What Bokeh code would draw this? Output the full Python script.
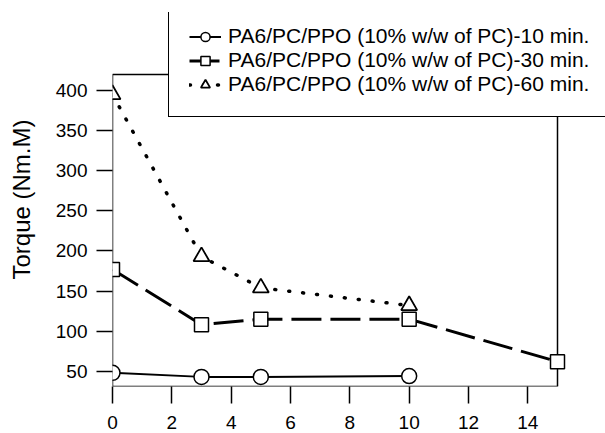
from bokeh.plotting import figure
from bokeh.models import Range1d, Legend, LegendItem, FixedTicker, BoxAnnotation
from bokeh.embed import file_html
from bokeh.resources import INLINE

# Data
x10 = [0, 3, 5, 10]
y10 = [48, 43, 43, 44]
x30 = [0, 3, 5, 10, 15]
y30 = [177, 108, 115, 115, 62]
x60 = [0, 3, 5, 10]
y60 = [395, 193, 154, 132]
labels = ["PA6/PC/PPO (10% w/w of PC)-10 min.",
          "PA6/PC/PPO (10% w/w of PC)-30 min.",
          "PA6/PC/PPO (10% w/w of PC)-60 min."]
xticks = [0, 2, 4, 6, 8, 10, 12, 14]
yticks = [50, 100, 150, 200, 250, 300, 350, 400]

# plot box limits (data units)
XMIN, XMAX = 0, 15
YMIN, YMAX = 31, 420

FONT = "Liberation Sans"

# the frame is extended up and right so the legend (which sits over the
# plot box corner) is not clipped; the plot box itself is drawn as a box
box_w, box_h = 445, 312
ext_right, ext_top = 48, 62
xpx = box_w / (XMAX - XMIN)
ypx = box_h / (YMAX - YMIN)

p = figure(width=605, height=433, frame_width=box_w + ext_right,
           frame_height=box_h + ext_top,
           min_border_left=112, min_border_right=0, min_border_top=12,
           min_border_bottom=47, output_backend="svg", toolbar_location=None,
           x_range=Range1d(XMIN, XMAX + ext_right / xpx),
           y_range=Range1d(YMIN, YMAX + ext_top / ypx))
p.xgrid.visible = False
p.ygrid.visible = False
p.outline_line_color = None
p.background_fill_color = "white"
p.border_fill_color = "white"

for ax in (p.xaxis[0], p.yaxis[0]):
    ax.axis_line_color = None
    ax.major_tick_line_color = "black"
    ax.major_tick_line_width = 1.5
    ax.major_tick_in = 0
    ax.minor_tick_line_color = None
    ax.major_label_text_font = FONT
    ax.major_label_text_font_size = "19px"
    ax.major_label_text_color = "black"

p.xaxis[0].ticker = FixedTicker(ticks=xticks)
p.yaxis[0].ticker = FixedTicker(ticks=yticks)
p.xaxis[0].major_tick_out = 17
p.yaxis[0].major_tick_out = 16
p.xaxis[0].major_label_standoff = 12
p.yaxis[0].major_label_standoff = 9
p.yaxis[0].axis_label = "Torque (Nm.M)"
p.yaxis[0].axis_label_text_font = FONT
p.yaxis[0].axis_label_text_font_size = "24px"
p.yaxis[0].axis_label_text_font_style = "normal"
p.yaxis[0].axis_label_text_color = "black"
p.yaxis[0].axis_label_standoff = 18

# plot box
p.add_layout(BoxAnnotation(left=XMIN, right=XMAX, bottom=YMIN, top=YMAX,
                           fill_alpha=0, line_color="black", line_alpha=1.0,
                           line_width=1.5, level="underlay"))

l1 = p.line(x10, y10, line_color="black", line_width=2)
m1 = p.scatter(x10, y10, marker="circle", size=15, fill_color="white",
               line_color="black", line_width=1.5)
l2 = p.line(x30, y30, line_color="black", line_width=3, line_dash="30 9")
m2 = p.scatter(x30, y30, marker="square", size=14, fill_color="white",
               line_color="black", line_width=1.5)
l3 = p.line(x60, y60, line_color="black", line_width=3.5, line_dash="1 13",
            line_cap="round")
m3 = p.scatter(x60, y60, marker="triangle", size=16, fill_color="white",
               line_color="black", line_width=1.8)

legend = Legend(items=[LegendItem(label=labels[0], renderers=[l1, m1]),
                       LegendItem(label=labels[1], renderers=[l2, m2]),
                       LegendItem(label=labels[2], renderers=[l3, m3])],
                location=(56, 269))
legend.border_line_color = "black"
legend.border_line_alpha = 1.0
legend.border_line_width = 1.5
legend.background_fill_color = "white"
legend.background_fill_alpha = 1.0
legend.label_text_font = FONT
legend.label_text_font_size = "21px"
legend.label_text_color = "black"
legend.glyph_width = 32
legend.glyph_height = 23
legend.label_height = 23
legend.label_standoff = 7
legend.spacing = 0
legend.padding = 20
legend.margin = 0
p.add_layout(legend, "center")

open("out.html", "w").write(file_html(p, INLINE))
